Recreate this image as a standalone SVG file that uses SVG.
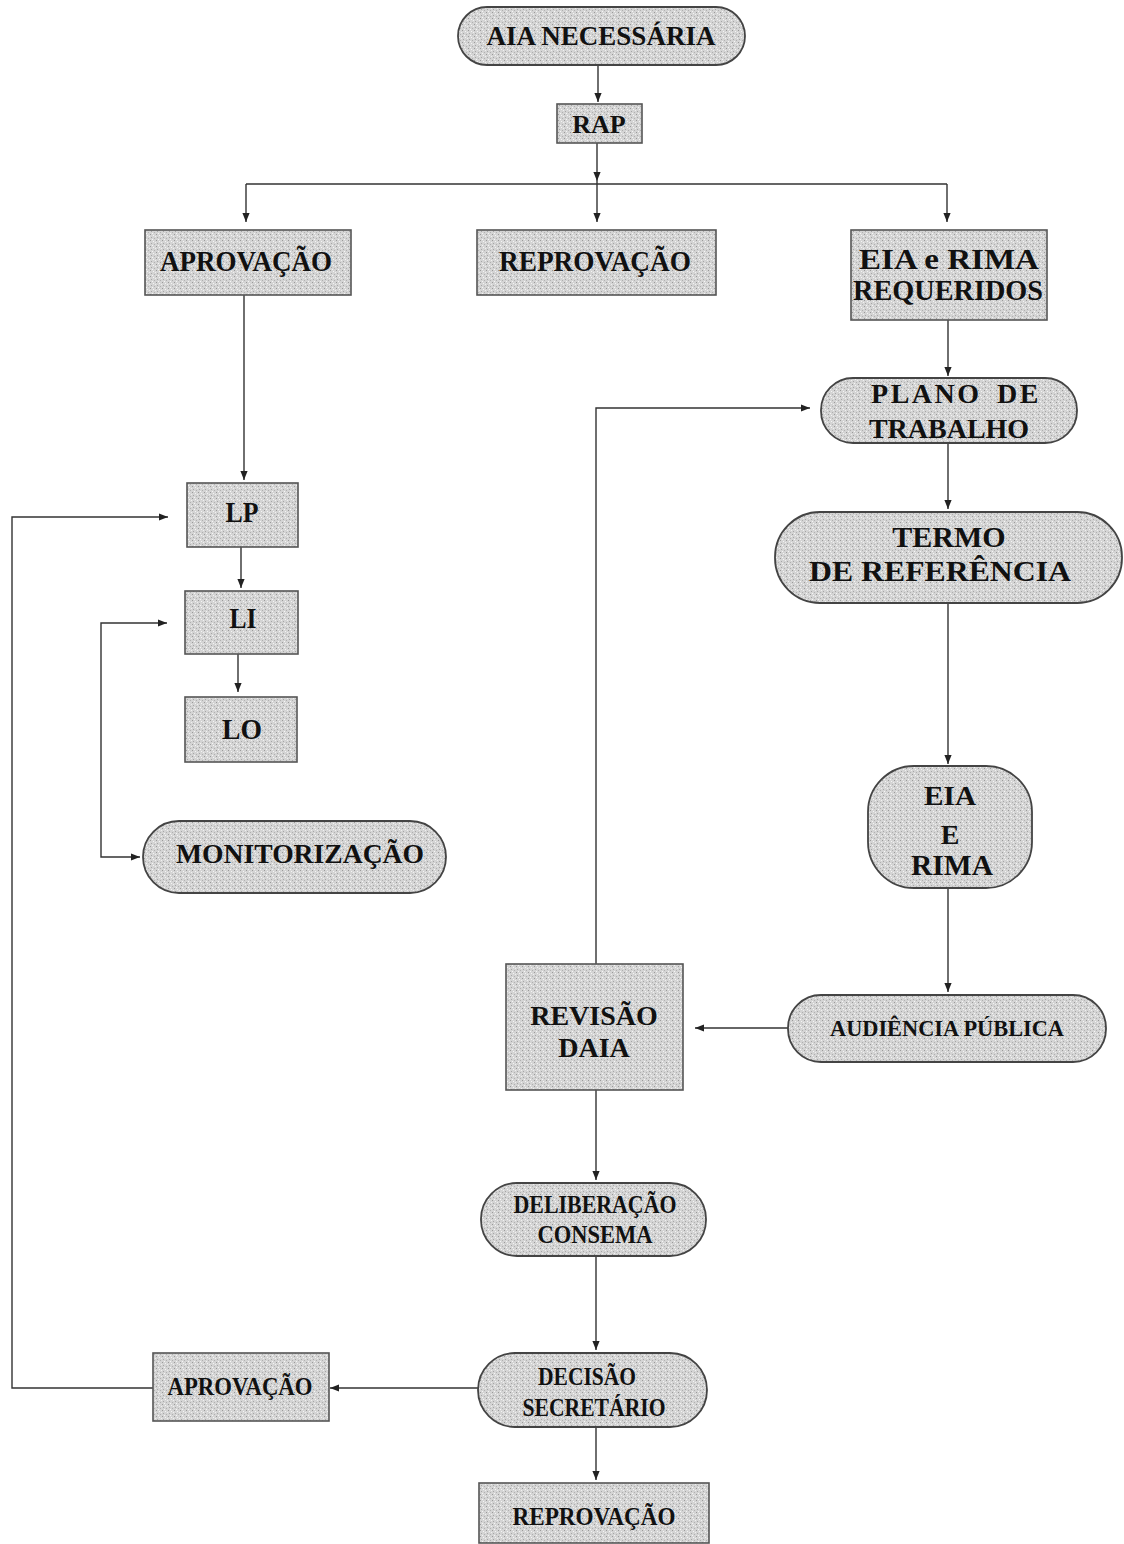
<svg xmlns="http://www.w3.org/2000/svg" width="1124" height="1544" viewBox="0 0 1124 1544">
<defs>
<pattern id="stip" width="6" height="6" patternUnits="userSpaceOnUse">
<rect width="6" height="6" fill="#d4d4d4"/>
<rect x="0" y="0" width="1" height="1" fill="#9a9a9a"/>
<rect x="3" y="1" width="1" height="1" fill="#f4f4f4"/>
<rect x="1" y="3" width="1" height="1" fill="#a6a6a6"/>
<rect x="4" y="4" width="1" height="1" fill="#b0b0b0"/>
<rect x="5" y="2" width="1" height="1" fill="#f0f0f0"/>
<rect x="2" y="5" width="1" height="1" fill="#f6f6f6"/>
</pattern>
<marker id="ah" viewBox="0 0 10 10" refX="10" refY="5" markerWidth="10" markerHeight="9" markerUnits="userSpaceOnUse" orient="auto-start-reverse">
<path d="M0,1 L10,5 L0,9 z" fill="#222"/>
</marker>
</defs>
<style>
.box{fill:url(#stip);stroke:#555;stroke-width:1.6}
.pill{fill:url(#stip);stroke:#444;stroke-width:1.8}
.t{font-family:"Liberation Serif","Times New Roman",serif;font-weight:bold;fill:#111;text-anchor:middle}
.c{fill:none;stroke:#333;stroke-width:1.4}
</style>
<rect width="1124" height="1544" fill="#fff"/>
<g id="connectors">
<path class="c" d="M598 65 V102" marker-end="url(#ah)"/>
<path class="c" d="M597 143 V181" marker-end="url(#ah)"/>
<path class="c" d="M597 181 V184 M246 184 H947"/>
<path class="c" d="M246 184 V222" marker-end="url(#ah)"/>
<path class="c" d="M597 184 V222" marker-end="url(#ah)"/>
<path class="c" d="M947 184 V222" marker-end="url(#ah)"/>
<path class="c" d="M244 295 V480" marker-end="url(#ah)"/>
<path class="c" d="M241 547 V588" marker-end="url(#ah)"/>
<path class="c" d="M238 654 V692" marker-end="url(#ah)"/>
<path class="c" d="M167 623 H101 V857 H140" marker-start="url(#ah)" marker-end="url(#ah)"/>
<path class="c" d="M948 320 V376" marker-end="url(#ah)"/>
<path class="c" d="M948 443 V509" marker-end="url(#ah)"/>
<path class="c" d="M948 603 V764" marker-end="url(#ah)"/>
<path class="c" d="M948 888 V992" marker-end="url(#ah)"/>
<path class="c" d="M788 1028 H695" marker-end="url(#ah)"/>
<path class="c" d="M596 964 V408 H810" marker-end="url(#ah)"/>
<path class="c" d="M596 1090 V1180" marker-end="url(#ah)"/>
<path class="c" d="M596 1256 V1350" marker-end="url(#ah)"/>
<path class="c" d="M478 1388 H330" marker-end="url(#ah)"/>
<path class="c" d="M596 1427 V1480" marker-end="url(#ah)"/>
<path class="c" d="M153 1388 H12 V517 H168" marker-end="url(#ah)"/>
</g>
<g id="aia"><rect class="pill" x="458" y="7" width="287" height="58" rx="29"/><text class="t" x="601" y="45" font-size="27">AIA NECESSÁRIA</text></g>
<g id="rap"><rect class="box" x="557" y="104" width="85" height="39"/><text class="t" x="599" y="133" font-size="26">RAP</text></g>
<g id="aprovacao1"><rect class="box" x="145" y="230" width="206" height="65"/><text class="t" x="246" y="271" font-size="29" textLength="172" lengthAdjust="spacingAndGlyphs">APROVAÇÃO</text></g>
<g id="reprovacao1"><rect class="box" x="477" y="230" width="239" height="65"/><text class="t" x="595" y="271" font-size="29" textLength="192" lengthAdjust="spacingAndGlyphs">REPROVAÇÃO</text></g>
<g id="requeridos"><rect class="box" x="851" y="230" width="196" height="90"/><text class="t" x="949" y="269" font-size="29" textLength="180" lengthAdjust="spacingAndGlyphs">EIA e RIMA</text><text class="t" x="948" y="300" font-size="29" textLength="190" lengthAdjust="spacingAndGlyphs">REQUERIDOS</text></g>
<g id="plano"><rect class="pill" x="821" y="378" width="256" height="65" rx="32"/><text class="t" x="956" y="403" font-size="28" letter-spacing="2.5" word-spacing="6">PLANO DE</text><text class="t" x="949" y="438" font-size="28">TRABALHO</text></g>
<g id="termo"><rect class="pill" x="775" y="512" width="347" height="91" rx="45"/><text class="t" x="949" y="547" font-size="30">TERMO</text><text class="t" x="940" y="581" font-size="30" textLength="262" lengthAdjust="spacingAndGlyphs">DE REFERÊNCIA</text></g>
<g id="lp"><rect class="box" x="187" y="483" width="111" height="64"/><text class="t" x="242" y="522" font-size="29" textLength="33" lengthAdjust="spacingAndGlyphs">LP</text></g>
<g id="li"><rect class="box" x="185" y="591" width="113" height="63"/><text class="t" x="243" y="628" font-size="29" textLength="27" lengthAdjust="spacingAndGlyphs">LI</text></g>
<g id="lo"><rect class="box" x="185" y="697" width="112" height="65"/><text class="t" x="242" y="739" font-size="29" textLength="40" lengthAdjust="spacingAndGlyphs">LO</text></g>
<g id="monitorizacao"><rect class="pill" x="143" y="821" width="303" height="72" rx="36"/><text class="t" x="300" y="863" font-size="27" textLength="248" lengthAdjust="spacingAndGlyphs">MONITORIZAÇÃO</text></g>
<g id="eia-rima"><rect class="pill" x="868" y="766" width="164" height="122" rx="46"/><text class="t" x="950" y="805" font-size="28" textLength="52" lengthAdjust="spacingAndGlyphs">EIA</text><text class="t" x="950" y="844" font-size="28">E</text><text class="t" x="952" y="875" font-size="29" textLength="82" lengthAdjust="spacingAndGlyphs">RIMA</text></g>
<g id="audiencia"><rect class="pill" x="788" y="995" width="318" height="67" rx="33"/><text class="t" x="947" y="1036" font-size="23" textLength="234" lengthAdjust="spacingAndGlyphs">AUDIÊNCIA PÚBLICA</text></g>
<g id="revisao"><rect class="box" x="506" y="964" width="177" height="126"/><text class="t" x="594" y="1025" font-size="28">REVISÃO</text><text class="t" x="594" y="1057" font-size="28">DAIA</text></g>
<g id="deliberacao"><rect class="pill" x="481" y="1183" width="225" height="73" rx="36"/><text class="t" x="595" y="1213" font-size="25" textLength="163" lengthAdjust="spacingAndGlyphs">DELIBERAÇÃO</text><text class="t" x="595" y="1243" font-size="25" textLength="115" lengthAdjust="spacingAndGlyphs">CONSEMA</text></g>
<g id="decisao"><rect class="pill" x="478" y="1353" width="229" height="74" rx="37"/><text class="t" x="587" y="1385" font-size="25" textLength="98" lengthAdjust="spacingAndGlyphs">DECISÃO</text><text class="t" x="594" y="1416" font-size="25" textLength="143" lengthAdjust="spacingAndGlyphs">SECRETÁRIO</text></g>
<g id="aprovacao2"><rect class="box" x="153" y="1353" width="176" height="68"/><text class="t" x="240" y="1395" font-size="25" textLength="145" lengthAdjust="spacingAndGlyphs">APROVAÇÃO</text></g>
<g id="reprovacao2"><rect class="box" x="479" y="1483" width="230" height="60"/><text class="t" x="594" y="1525" font-size="25" textLength="163" lengthAdjust="spacingAndGlyphs">REPROVAÇÃO</text></g>
</svg>
